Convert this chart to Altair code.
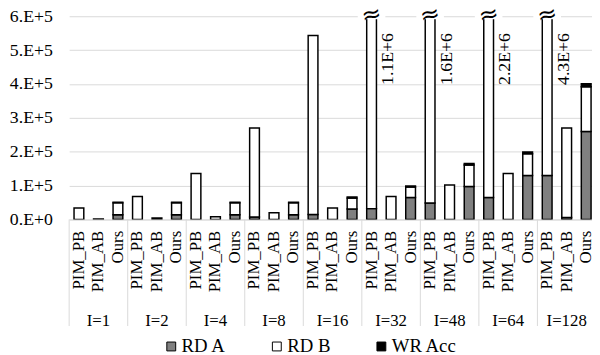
import altair as alt
import pandas as pd

groups = ["I=1", "I=2", "I=4", "I=8", "I=16", "I=32", "I=48", "I=64", "I=128"]
designs = ["PIM_PB", "PIM_AB", "Ours"]
components = ["RD A", "RD B", "WR Acc"]
colors = ["#808080", "#ffffff", "#000000"]

# values per group (I=1 ... I=128)
pb_rd_a = [0, 0, 0, 7000, 14600, 32000, 48700, 65000, 130000]
pb_rd_b = [34000, 68000, 136000, 263000, 528400, 1068000, 1551300, 2135000, 4170000]
pb_wr = [0, 0, 0, 0, 0, 0, 0, 0, 0]

ab_rd_a = [0, 0, 0, 0, 0, 0, 0, 0, 6000]
ab_rd_b = [1500, 4000, 8000, 19500, 34000, 68000, 102000, 136000, 264000]
ab_wr = [0, 0, 0, 0, 0, 0, 0, 0, 0]

ours_rd_a = [13700, 13700, 13700, 13700, 31000, 65000, 97000, 130000, 260000]
ours_rd_b = [35300, 35300, 35300, 35300, 32000, 31000, 64000, 64000, 132000]
ours_wr = [1500, 1500, 1500, 1500, 3000, 3000, 4000, 5000, 9000]

broken_groups = ["I=32", "I=48", "I=64", "I=128"]
broken_labels = ["1.1E+6", "1.6E+6", "2.2E+6", "4.3E+6"]

y_ticks = [0, 100000, 200000, 300000, 400000, 500000, 600000]
y_tick_labels = ["0.E+0", "1.E+5", "2.E+5", "3.E+5", "4.E+5", "5.E+5", "6.E+5"]

series = {
    "PIM_PB": [pb_rd_a, pb_rd_b, pb_wr],
    "PIM_AB": [ab_rd_a, ab_rd_b, ab_wr],
    "Ours": [ours_rd_a, ours_rd_b, ours_wr],
}

keys = [g + "|" + d for g in groups for d in designs]
rows = []
for gi, g in enumerate(groups):
    for d in designs:
        for ci, c in enumerate(components):
            v = series[d][ci][gi]
            if v > 0:
                rows.append({"group": g, "design": d, "key": g + "|" + d,
                             "component": c, "value": v, "ord": ci})
df = pd.DataFrame(rows)

brk = pd.DataFrame({"key": [g + "|PIM_PB" for g in broken_groups],
                    "label": broken_labels})
grp = pd.DataFrame({"group": groups,
                    "first": [g + "|PIM_PB" for g in groups],
                    "mid": [g + "|PIM_AB" for g in groups]})

FONT = "Liberation Serif, Times New Roman, serif"
GRID = "#d9d9d9"
W = 534
STEP = W / len(keys)

xscale = alt.Scale(domain=keys, paddingInner=0.5, paddingOuter=0.25)
xaxis = alt.Axis(title=None, labelExpr="split(datum.label, '|')[1]",
                 labelAngle=-90, labelFont=FONT, labelFontSize=17,
                 labelColor="black", ticks=False, domainColor=GRID,
                 domainWidth=1, labelPadding=11, labelOverlap=False,
                 grid=False)


def xenc(field):
    return alt.X(field + ":N", scale=xscale, sort=keys, axis=xaxis)


label_expr = "[" + ",".join("'%s'" % s for s in y_tick_labels) + "][round(datum.value/100000)]"

bars = alt.Chart(df).mark_bar(stroke="black", strokeWidth=1.5, clip=True).encode(
    x=xenc("key"),
    y=alt.Y("value:Q", stack="zero",
            scale=alt.Scale(domain=[0, 600000], nice=False),
            axis=alt.Axis(title=None, values=y_ticks, labelExpr=label_expr,
                          labelFont=FONT, labelFontSize=18, labelColor="black",
                          ticks=False, domain=False, gridColor=GRID,
                          gridWidth=1, labelPadding=17)),
    color=alt.Color("component:N",
                    scale=alt.Scale(domain=components, range=colors),
                    legend=alt.Legend(title=None, orient="none", legendX=94,
                                      legendY=325, direction="horizontal",
                                      symbolType="square", symbolSize=81,
                                      symbolStrokeColor="black",
                                      symbolStrokeWidth=1, labelFont=FONT,
                                      labelFontSize=19, labelColor="black",
                                      columnPadding=42, labelOffset=1,
                                      padding=0)),
    order=alt.Order("ord:Q", sort="ascending"),
)

mask = alt.Chart(brk).mark_bar(width=28, color="white").encode(
    x=xenc("key"),
    y=alt.value(-9),
    y2=alt.value(3),
)

glyph = alt.Chart(brk).mark_text(text="≈", font="DejaVu Sans", fontSize=24,
                                 angle=348, align="center",
                                 baseline="middle", color="black").encode(
    x=xenc("key"),
    y=alt.value(-1),
)

blabels = alt.Chart(brk).mark_text(angle=270, align="right", baseline="middle",
                                   dy=17, font=FONT, fontSize=18,
                                   color="black").encode(
    x=xenc("key"),
    y=alt.value(17),
    text="label:N",
)

seps = alt.Chart(grp).mark_rule(color=GRID, strokeWidth=1,
                                xOffset=-STEP * 0.25).encode(
    x=alt.X("first:N", scale=xscale, sort=keys, axis=xaxis, bandPosition=0),
    y=alt.value(206),
    y2=alt.value(314),
)

gtext = alt.Chart(grp).mark_text(font=FONT, fontSize=17, color="black",
                                 baseline="middle", align="center").encode(
    x=xenc("mid"),
    y=alt.value(309),
    text="group:N",
)

chart = alt.layer(bars, mask, glyph, blabels, seps, gtext).properties(
    width=W, height=206,
    autosize=alt.AutoSizeParams(type="none"),
    padding={"left": 62, "top": 6, "right": -4, "bottom": 133},
).configure_view(stroke=None)

chart.save("out.html", embed_options={"renderer": "svg", "actions": False})
